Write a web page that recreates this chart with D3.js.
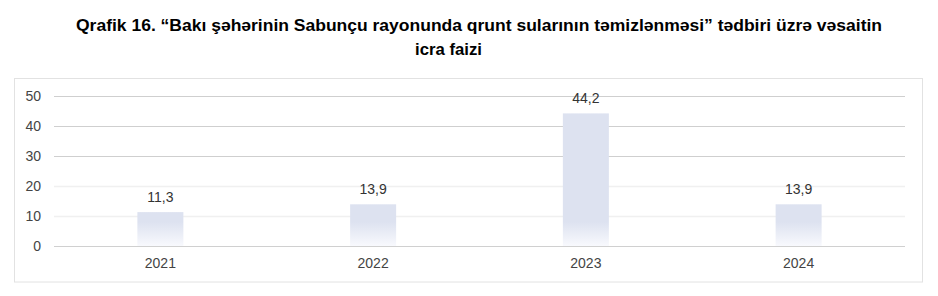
<!DOCTYPE html>
<html>
<head>
<meta charset="utf-8">
<script src="https://cdn.jsdelivr.net/npm/d3@7/dist/d3.min.js"></script>
<style>
  html, body { margin: 0; padding: 0; background: #fff; }
  svg { display: block; font-family: Arial, "Liberation Sans", sans-serif; }
</style>
</head>
<body>
<svg id="chart" width="938" height="296"></svg>
<script>
// Funds execution rate by year (%)
const years = ["2021", "2022", "2023", "2024"];
const values = [11.3, 13.9, 44.2, 13.9];
const yTicks = [0, 10, 20, 30, 40, 50];
const titleLines = [
  "Qrafik 16. “Bakı şəhərinin Sabunçu rayonunda qrunt sularının təmizlənməsi” tədbiri üzrə vəsaitin",
  "icra faizi"
];

const svg = d3.select("#chart");
const plot = { left: 54, right: 905, top: 96, bottom: 246 };

// Title (two lines, slightly widened glyphs)
const titleLayout = [
  { x: 76, y: 31, len: 806 },
  { x: 415, y: 55, len: 67 }
];
svg.append("g").selectAll("text")
  .data(titleLines)
  .join("text")
  .attr("x", (d, i) => titleLayout[i].x)
  .attr("y", (d, i) => titleLayout[i].y)
  .attr("textLength", (d, i) => titleLayout[i].len)
  .attr("lengthAdjust", "spacingAndGlyphs")
  .attr("font-size", 16)
  .attr("font-weight", "bold")
  .attr("fill", "#000")
  .text(d => d);

// Frame around the chart area
svg.append("rect")
  .attr("x", 14.5).attr("y", 78.5)
  .attr("width", 908).attr("height", 203.5)
  .attr("fill", "none")
  .attr("stroke", "#e2e2e2");

const x = d3.scaleBand().domain(years).range([plot.left, plot.right]).paddingInner(0).paddingOuter(0);
const y = d3.scaleLinear().domain([0, 50]).range([plot.bottom, plot.top]);

// Gradient for bars: solid pale blue fading toward white at the base
const defs = svg.append("defs");
const grad = defs.append("linearGradient")
  .attr("id", "barGrad")
  .attr("gradientUnits", "userSpaceOnUse")
  .attr("x1", 0).attr("x2", 0)
  .attr("y1", plot.bottom - 24).attr("y2", plot.bottom);
grad.append("stop").attr("offset", 0).attr("stop-color", "#dde2f0");
grad.append("stop").attr("offset", 1).attr("stop-color", "#f8f9fd");

// Gridlines
svg.append("g").selectAll("line")
  .data(yTicks)
  .join("line")
  .attr("x1", plot.left).attr("x2", plot.right)
  .attr("y1", d => Math.round(y(d)) + 0.5)
  .attr("y2", d => Math.round(y(d)) + 0.5)
  .attr("stroke", d => (d === 10 || d === 20) ? "#f0f0f0" : "#cfcfcf")
  .attr("stroke-width", d => (d === 10 || d === 20) ? 1.5 : 1);

// Y axis labels
const yAxis = d3.axisLeft(y).tickValues(yTicks).tickSize(0).tickPadding(0);
const yg = svg.append("g").attr("transform", `translate(41,0)`).call(yAxis);
yg.select(".domain").remove();
yg.selectAll("text")
  .attr("font-size", 14)
  .attr("font-family", "Arial, 'Liberation Sans', sans-serif")
  .attr("fill", "#444")
  .attr("dy", "0.32em");

// Bars
const barW = 46;
svg.append("g").selectAll("rect")
  .data(values)
  .join("rect")
  .attr("x", (d, i) => x(years[i]) + x.bandwidth() / 2 - barW / 2)
  .attr("width", barW)
  .attr("y", d => y(d))
  .attr("height", d => y(0) - y(d))
  .attr("fill", "url(#barGrad)");

// Baseline on top of bars
svg.append("line")
  .attr("x1", plot.left).attr("x2", plot.right)
  .attr("y1", plot.bottom + 0.5).attr("y2", plot.bottom + 0.5)
  .attr("stroke", "#d0d0d0");

// Value labels
svg.append("g").selectAll("text")
  .data(values)
  .join("text")
  .attr("x", (d, i) => x(years[i]) + x.bandwidth() / 2)
  .attr("y", d => y(d) - 10)
  .attr("text-anchor", "middle")
  .attr("font-size", 14)
  .attr("fill", "#333")
  .text(d => d.toFixed(1).replace(".", ","));

// X axis labels
const xAxis = d3.axisBottom(x).tickSize(0).tickPadding(0);
const xg = svg.append("g").attr("transform", `translate(0,${plot.bottom + 12})`).call(xAxis);
xg.select(".domain").remove();
xg.selectAll("text")
  .attr("font-size", 14)
  .attr("font-family", "Arial, 'Liberation Sans', sans-serif")
  .attr("fill", "#444")
  .attr("dy", "0.71em");
</script>
</body>
</html>
